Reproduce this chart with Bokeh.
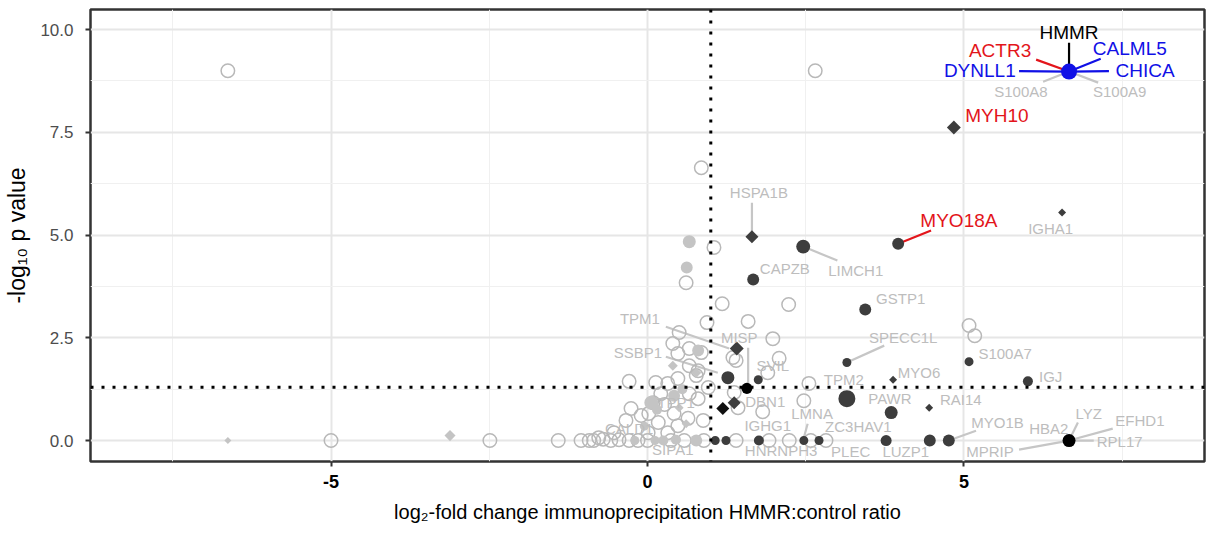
from math import pi, sqrt
from bokeh.plotting import figure
from bokeh.models import Range1d, FixedTicker, Span, Label
from bokeh.embed import file_html
from bokeh.resources import INLINE

# ---------------- data (x = log2 fold change, y = -log10 p) ----------------
bait_name = "HMMR"
bait_fc, bait_p, bait_psm = 6.66, 8.98, 64
bait_copartners = ["ACTR3", "CALML5", "DYNLL1", "CHICA", "S100A8", "S100A9"]

# non-significant proteins (open circles)
ns_fc = [-6.63, 2.65, 0.85, 1.05, 0.61, 1.18, 2.23, 1.59, 0.94, 1.98, 5.08, 5.17,
         0.66, 0.50, 0.40, 0.48, 0.66, 0.85, 0.77, 0.13, 0.32, 0.48, 1.35, 1.40,
         1.90, 2.08, 2.55, 2.47, 1.82, 1.43, 0.88, 0.09, 0.21, 0.42, 0.02, 0.17,
         0.01, 0.32, 0.48, 0.64, 0.80, 0.66, 0.80, 0.96, 1.37, -0.77, -0.53, -0.34,
         -0.26, -0.10, -0.29, 0.27,
         -5.00, -2.49, -1.41, -1.05, -0.92, -0.85, -0.58, -0.29, -0.15, 0.00, 0.37,
         0.58, 0.89, 1.40, 1.92, 2.24, 2.58, 2.82, -0.70, -0.45]
ns_p = [9.00, 9.00, 6.64, 4.70, 3.84, 3.33, 3.31, 2.90, 2.87, 2.48, 2.80, 2.55,
        2.24, 2.63, 2.36, 2.12, 1.82, 2.14, 1.58, 1.41, 1.39, 1.51, 2.02, 1.95,
        1.65, 2.00, 1.39, 0.97, 0.70, 0.80, 0.49, 0.92, 1.14, 0.66, 0.66, 0.44,
        0.19, 0.19, 0.36, 0.54, 1.02, 1.14, 1.70, 1.29, 1.17, 0.07, 0.19, 0.49,
        0.78, 0.61, 1.44, 0.88,
        0.00, 0.00, 0.00, 0.00, 0.00, 0.00, 0.00, 0.00, 0.00, 0.00, 0.00,
        0.00, 0.00, 0.00, 0.00, 0.00, 0.00, 0.00, 0.03, 0.02]

# enriched, not significant (light grey filled circles / diamonds)
lgc_fc = [0.66, 0.62, 0.80, 0.06, 0.42, 0.77, 0.25, 0.45, 0.15, -0.05, 0.55, 0.12, -0.20]
lgc_p = [4.84, 4.21, 2.19, 0.92, 1.09, 0.00, 0.00, 0.02, 0.75, 0.35, 1.25, 0.00, 0.00]
lgc_psm = [36, 28, 28, 44, 28, 28, 16, 16, 16, 11, 16, 11, 11]

lgd_fc = [0.40, 0.77, 0.61, 0.50, -3.12, -6.63]
lgd_p = [1.82, 1.65, 0.41, 0.80, 0.12, 0.00]
lgd_psm = [16, 16, 11, 11, 22, 4]

# significant interactors (dark circles)
dkc_names = ["LIMCH1", "MYO18A", "CAPZB", "GSTP1", "SPECC1L", "S100A7", "IGJ", "TPM2",
             "PAWR", "SSBP1", "SVIL", "SIPA1", "HNRNPH3", "IGHG1", "LMNA", "PLEC",
             "ZC3HAV1", "LUZP1", "MYO1B"]
dkc_fc = [2.46, 3.96, 1.67, 3.44, 3.15, 5.08, 6.01, 3.15,
          3.85, 1.27, 1.75, 1.07, 1.24, 1.76, 2.47, 2.71,
          3.77, 4.46, 4.76]
dkc_p = [4.72, 4.79, 3.92, 3.19, 1.90, 1.92, 1.44, 1.02,
         0.68, 1.53, 1.48, 0.00, 0.00, 0.00, 0.00, 0.00,
         0.00, 0.00, 0.00]
dkc_psm = [44, 28, 28, 28, 11, 11, 16, 75,
           36, 36, 11, 11, 11, 16, 11, 11,
           22, 28, 28]

# significant interactors (dark diamonds)
dkd_names = ["MYH10", "HSPA1B", "IGHA1", "TPM1", "MYO6", "RAI14", "DBN1"]
dkd_fc = [4.84, 1.65, 6.55, 1.41, 3.88, 4.45, 1.37]
dkd_p = [7.62, 4.96, 5.55, 2.24, 1.48, 0.80, 0.92]
dkd_psm = [44, 36, 7, 44, 7, 7, 36]

# black markers
bkc_names = ["MISP", "RPL17"]
bkc_fc = [1.57, 6.66]
bkc_p = [1.27, 0.00]
bkc_psm = [22, 36]
rpl17_copartners = ["LYZ", "HBA2", "EFHD1", "MPRIP"]

bkd_names = ["TPP1"]
bkd_fc = [1.19]
bkd_p = [0.78]
bkd_psm = [36]

tick_x = [-5, 0, 5]
tick_y = [0, 2.5, 5, 7.5, 10]
tick_y_labels = ["0.0", "2.5", "5.0", "7.5", "10.0"]
fc_cut = 1.0
p_cut = 1.3

# ---------------- figure ----------------
def diam(psm):
    return 4 + 1.5 * sqrt(psm)

p = figure(width=1209, height=535, x_range=Range1d(-8.8, 8.8), y_range=Range1d(-0.51, 10.49),
           output_backend="svg", toolbar_location=None,
           min_border_left=90, min_border_right=5, min_border_top=9, min_border_bottom=74)
p.background_fill_color = "white"
p.border_fill_color = "white"
p.outline_line_color = "#333333"
p.outline_line_width = 2.5

p.xaxis.ticker = FixedTicker(ticks=tick_x, minor_ticks=[-7.5, -2.5, 2.5, 7.5])
p.yaxis.ticker = FixedTicker(ticks=tick_y, minor_ticks=[1.25, 3.75, 6.25, 8.75])
p.xaxis.major_label_overrides = {t: str(t) for t in tick_x}
p.yaxis.major_label_overrides = {t: l for t, l in zip(tick_y, tick_y_labels)}
for ax in (p.xaxis, p.yaxis):
    ax.axis_line_color = None
    ax.major_tick_line_color = "#333333"
    ax.major_tick_line_width = 2
    ax.major_tick_out = 5
    ax.major_tick_in = 0
    ax.minor_tick_out = 0
    ax.minor_tick_in = 0
    ax.major_label_text_font = "Liberation Sans"
    ax.axis_label_text_font = "Liberation Sans"
    ax.axis_label_text_font_style = "normal"
    ax.axis_label_text_color = "black"
p.xaxis.major_label_text_font_size = "18px"
p.yaxis.major_label_text_font_size = "17px"
p.xaxis.major_label_text_font_style = "bold"
p.xaxis.major_label_text_color = "black"
p.xaxis.major_label_standoff = 8
p.yaxis.major_label_text_color = "#4d4d4d"
p.yaxis.major_label_standoff = 12

p.xaxis.axis_label = "log₂-fold change immunoprecipitation HMMR:control ratio"
p.xaxis.axis_label_text_font_size = "20px"
p.xaxis.axis_label_standoff = 10
p.yaxis.axis_label = "-log₁₀ p value"
p.yaxis.axis_label_text_font_size = "23px"
p.yaxis.axis_label_standoff = 7

for g in (p.xgrid, p.ygrid):
    g.grid_line_color = "#e6e6e6"
    g.grid_line_width = 2
    g.minor_grid_line_color = "#f0f0f0"
    g.minor_grid_line_width = 1

# ---------------- label layout ----------------
GREY = "#bdbdbd"
RED = "#e3151b"
BLUE = "#1010e6"
# name: (label x, label y, segment start or None, colour, font px)
layout = {
    "HMMR": (6.66, 9.93, (6.66, 9.68), "black", 19),
    "ACTR3": (5.57, 9.49, (6.14, 9.27), RED, 19),
    "CALML5": (7.62, 9.54, (7.16, 9.29), BLUE, 19),
    "DYNLL1": (5.25, 9.0, (5.87, 8.99), BLUE, 19),
    "CHICA": (7.86, 9.0, (7.29, 8.99), BLUE, 19),
    "S100A8": (5.90, 8.49, (6.25, 8.73), GREY, 15),
    "S100A9": (7.46, 8.49, (7.12, 8.71), GREY, 15),
    "MYH10": (5.52, 7.91, None, RED, 19),
    "MYO18A": (4.92, 5.35, (4.48, 5.11), RED, 19),
    "IGHA1": (6.37, 5.16, None, GREY, 15),
    "HSPA1B": (1.76, 6.03, (1.65, 5.79), GREY, 15),
    "LIMCH1": (3.29, 4.14, (3.0, 4.38), GREY, 15),
    "CAPZB": (2.17, 4.18, None, GREY, 15),
    "GSTP1": (4.0, 3.45, None, GREY, 15),
    "SPECC1L": (4.04, 2.51, (3.74, 2.31), GREY, 15),
    "S100A7": (5.65, 2.12, None, GREY, 15),
    "MYO6": (4.29, 1.65, None, GREY, 15),
    "IGJ": (6.37, 1.56, None, GREY, 15),
    "TPM2": (3.10, 1.48, None, GREY, 15),
    "PAWR": (3.83, 1.02, None, GREY, 15),
    "RAI14": (4.95, 1.0, None, GREY, 15),
    "MYO1B": (5.53, 0.44, (5.19, 0.24), GREY, 15),
    "HBA2": (6.34, 0.29, None, GREY, 15),
    "LYZ": (6.97, 0.66, (6.80, 0.44), GREY, 15),
    "EFHD1": (7.78, 0.49, (7.35, 0.29), GREY, 15),
    "RPL17": (7.46, -0.02, (7.05, 0.0), GREY, 15),
    "MPRIP": (5.41, -0.27, (5.87, -0.22), GREY, 15),
    "LUZP1": (4.08, -0.27, None, GREY, 15),
    "PLEC": (3.21, -0.27, None, GREY, 15),
    "ZC3HAV1": (3.33, 0.34, None, GREY, 15),
    "LMNA": (2.60, 0.66, (2.53, 0.41), GREY, 15),
    "IGHG1": (1.90, 0.36, None, GREY, 15),
    "HNRNPH3": (2.11, -0.24, None, GREY, 15),
    "DBN1": (1.86, 0.95, None, GREY, 15),
    "SVIL": (1.98, 1.82, None, GREY, 15),
    "MISP": (1.45, 2.51, (1.59, 2.26), GREY, 15),
    "TPM1": (-0.12, 2.97, (0.29, 2.77), GREY, 15),
    "SSBP1": (-0.15, 2.14, (0.29, 2.04), GREY, 15),
    "TPP1": (0.45, 0.92, None, GREY, 15),
    "CALD1": (-0.29, 0.29, None, GREY, 15),
    "SIPA1": (0.40, -0.22, None, GREY, 15),
}

# point lookup
pos = {bait_name: (bait_fc, bait_p)}
for n in bait_copartners:
    pos[n] = (bait_fc, bait_p)
for names, xs, ys in ((dkc_names, dkc_fc, dkc_p), (dkd_names, dkd_fc, dkd_p),
                      (bkc_names, bkc_fc, bkc_p), (bkd_names, bkd_fc, bkd_p)):
    for n, x, y in zip(names, xs, ys):
        pos[n] = (x, y)
for n in rpl17_copartners:
    pos[n] = pos["RPL17"]

# leader lines that stop short of their point
short_end = {"TPM1": (1.29, 2.24), "SSBP1": (1.11, 1.65), "MISP": (1.59, 1.29), "LMNA": (2.47, 0.07)}

# segments (under points)
for name, (lx, ly, seg, col, fs) in layout.items():
    if seg is None or name not in pos:
        continue
    px, py = short_end.get(name, pos[name])
    scol = col if col != GREY else "#c6c6c6"
    p.line([seg[0], px], [seg[1], py], line_color=scol, line_width=2.2)

# points
p.scatter(ns_fc, ns_p, marker="circle", size=13.5, fill_color=None,
          line_color="#b8b8b8", line_width=1.5)
p.scatter(lgc_fc, lgc_p, marker="circle", size=[diam(v) for v in lgc_psm],
          fill_color="#c4c4c4", line_color=None)
p.scatter(lgd_fc, lgd_p, marker="square", angle=pi / 4,
          size=[diam(v) / sqrt(2) for v in lgd_psm], fill_color="#c4c4c4", line_color=None)
p.scatter(dkc_fc, dkc_p, marker="circle", size=[diam(v) for v in dkc_psm],
          fill_color="#3d3d3d", line_color=None)
p.scatter(dkd_fc, dkd_p, marker="square", angle=pi / 4,
          size=[diam(v) / sqrt(2) for v in dkd_psm], fill_color="#3d3d3d", line_color=None)
p.scatter(bkc_fc, bkc_p, marker="circle", size=[diam(v) for v in bkc_psm],
          fill_color="black", line_color=None)
p.scatter(bkd_fc, bkd_p, marker="square", angle=pi / 4,
          size=[diam(v) / sqrt(2) for v in bkd_psm], fill_color="#111111", line_color=None)
p.scatter([bait_fc], [bait_p], marker="circle", size=diam(bait_psm),
          fill_color=BLUE, line_color=None)

# threshold lines
p.add_layout(Span(location=p_cut, dimension="width", line_color="black",
                  line_width=3, line_dash="3 8"))
p.add_layout(Span(location=fc_cut, dimension="height", line_color="black",
                  line_width=3, line_dash="3 8"))

# labels
for name, (lx, ly, seg, col, fs) in layout.items():
    p.add_layout(Label(x=lx, y=ly, text=name, text_align="center", text_baseline="middle",
                       text_font="Liberation Sans", text_font_size=f"{fs}px", text_color=col))

open("out.html", "w").write(file_html(p, INLINE))
